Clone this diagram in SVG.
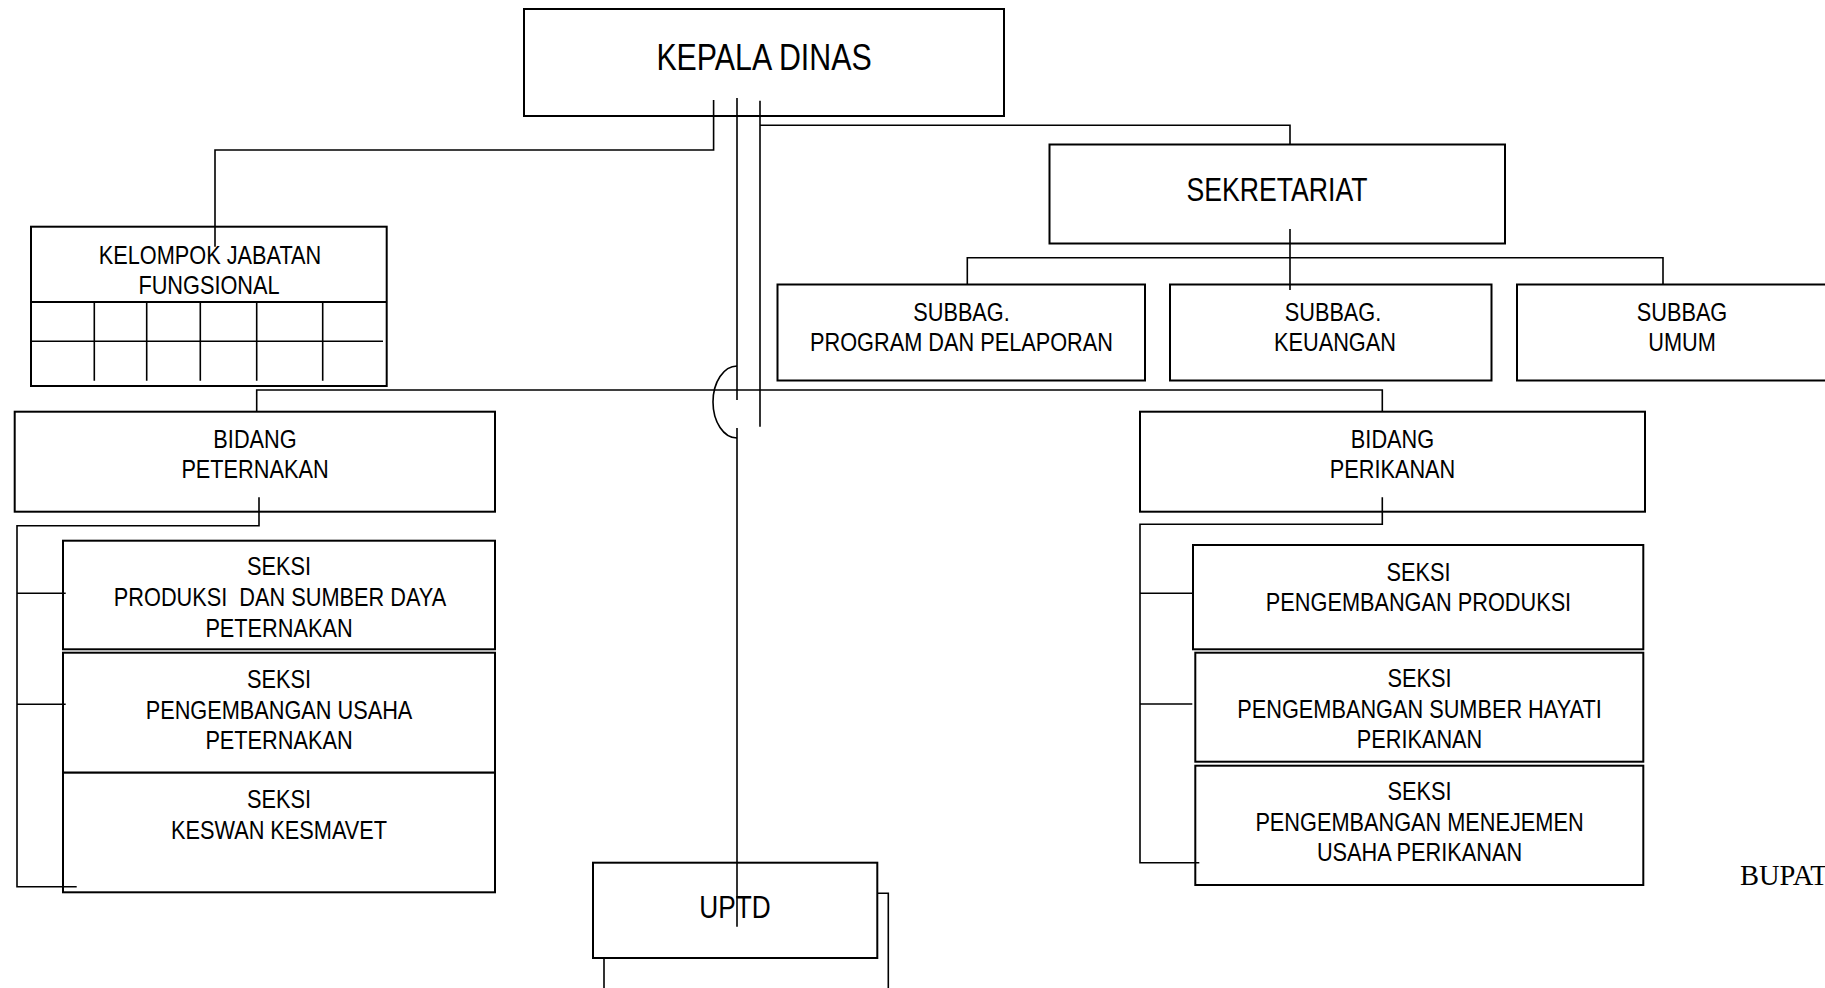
<svg xmlns="http://www.w3.org/2000/svg" width="1825" height="988" viewBox="0 0 1825 988">
<style>
.box{fill:#fff;stroke:#000;stroke-width:2}
.ln{fill:none;stroke:#000;stroke-width:1.6}
.t{font-family:"Liberation Sans","Arial",sans-serif;font-size:26.5px;text-anchor:middle;fill:#000;white-space:pre}
.big{font-size:37px}
.mid{font-size:32.5px}
.up{font-size:32px}
.serif{font-family:"Liberation Serif","Times New Roman",serif;font-size:28.5px;fill:#000}
</style>
<rect width="1825" height="988" fill="#fff"/>
<g id="kepala-dinas">
<rect class="box" x="524" y="9" width="480" height="107"/>
<text class="t big" transform="matrix(0.82 0 0 1 764 69.5)">KEPALA DINAS</text>
</g>
<g id="sekretariat">
<rect class="box" x="1049.5" y="144.5" width="455.5" height="99"/>
<text class="t mid" transform="matrix(0.82 0 0 1 1277 201)">SEKRETARIAT</text>
</g>
<g id="subbag-program">
<rect class="box" x="777.5" y="284.5" width="367.5" height="96"/>
<text class="t" transform="matrix(0.82 0 0 1 961.5 321)">SUBBAG.</text>
<text class="t" transform="matrix(0.82 0 0 1 961.5 351)">PROGRAM DAN PELAPORAN</text>
</g>
<g id="subbag-keuangan">
<rect class="box" x="1170" y="284.5" width="321.5" height="96"/>
<text class="t" transform="matrix(0.82 0 0 1 1333 321)">SUBBAG.</text>
<text class="t" transform="matrix(0.82 0 0 1 1335 351)">KEUANGAN</text>
</g>
<g id="subbag-umum">
<rect class="box" x="1517" y="284.5" width="320" height="96"/>
<text class="t" transform="matrix(0.82 0 0 1 1682 321)">SUBBAG</text>
<text class="t" transform="matrix(0.82 0 0 1 1682 351)">UMUM</text>
</g>
<g id="kelompok-jabatan-fungsional">
<rect class="box" x="31" y="226.7" width="355.7" height="159.3"/>
<line class="ln" x1="31" y1="302" x2="386.7" y2="302" style="stroke-width:2"/>
<line class="ln" x1="31" y1="341.3" x2="383" y2="341.3"/>
<path class="ln" d="M94.3,302V380.7M146.7,302V380.7M200.3,302V380.7M256.7,302V380.7M322.7,302V380.7"/>
<text class="t" transform="matrix(0.82 0 0 1 210 264)">KELOMPOK JABATAN</text>
<text class="t" transform="matrix(0.82 0 0 1 209 294)">FUNGSIONAL</text>
</g>
<g id="bidang-peternakan">
<rect class="box" x="14.7" y="411.7" width="480.3" height="100"/>
<text class="t" transform="matrix(0.82 0 0 1 255 448.3)">BIDANG</text>
<text class="t" transform="matrix(0.82 0 0 1 255 478.3)">PETERNAKAN</text>
</g>
<g id="seksi-produksi-sumber-daya">
<rect class="box" x="63" y="540.7" width="432" height="108.6"/>
<text class="t" transform="matrix(0.82 0 0 1 279 575)">SEKSI</text>
<text class="t" transform="matrix(0.82 0 0 1 280 606)">PRODUKSI  DAN SUMBER DAYA</text>
<text class="t" transform="matrix(0.82 0 0 1 279 636.7)">PETERNAKAN</text>
</g>
<g id="seksi-pengembangan-usaha">
<rect class="box" x="63" y="652.7" width="432" height="120"/>
<text class="t" transform="matrix(0.82 0 0 1 279 687.5)">SEKSI</text>
<text class="t" transform="matrix(0.82 0 0 1 279 718.5)">PENGEMBANGAN USAHA</text>
<text class="t" transform="matrix(0.82 0 0 1 279 749)">PETERNAKAN</text>
</g>
<g id="seksi-keswan">
<rect class="box" x="63" y="772.7" width="432" height="119.6"/>
<text class="t" transform="matrix(0.82 0 0 1 279 807.7)">SEKSI</text>
<text class="t" transform="matrix(0.82 0 0 1 279 839)">KESWAN KESMAVET</text>
</g>
<g id="bidang-perikanan">
<rect class="box" x="1140" y="411.7" width="505" height="100"/>
<text class="t" transform="matrix(0.82 0 0 1 1392.5 448.3)">BIDANG</text>
<text class="t" transform="matrix(0.82 0 0 1 1392.5 478.3)">PERIKANAN</text>
</g>
<g id="seksi-pengembangan-produksi">
<rect class="box" x="1193" y="545" width="450.3" height="104.3"/>
<text class="t" transform="matrix(0.82 0 0 1 1418.5 580.7)">SEKSI</text>
<text class="t" transform="matrix(0.82 0 0 1 1418.5 610.7)">PENGEMBANGAN PRODUKSI</text>
</g>
<g id="seksi-sumber-hayati">
<rect class="box" x="1195.3" y="652.7" width="448" height="109"/>
<text class="t" transform="matrix(0.82 0 0 1 1419.5 687.3)">SEKSI</text>
<text class="t" transform="matrix(0.82 0 0 1 1419.5 718.3)">PENGEMBANGAN SUMBER HAYATI</text>
<text class="t" transform="matrix(0.82 0 0 1 1419.5 748.3)">PERIKANAN</text>
</g>
<g id="seksi-menejemen-usaha">
<rect class="box" x="1195.3" y="765.7" width="448" height="119.3"/>
<text class="t" transform="matrix(0.82 0 0 1 1419.5 800)">SEKSI</text>
<text class="t" transform="matrix(0.82 0 0 1 1419.5 830.7)">PENGEMBANGAN MENEJEMEN</text>
<text class="t" transform="matrix(0.82 0 0 1 1419.5 861)">USAHA PERIKANAN</text>
</g>
<g id="uptd">
<rect class="box" x="593" y="862.7" width="284.3" height="95.3"/>
<text class="t up" transform="matrix(0.82 0 0 1 735 918.3)">UPTD</text>
</g>
<g id="bupati">
<text class="serif" x="1740" y="885">BUPAT</text>
</g>
<g id="connectors">
<path class="ln" d="M713.6,100V150H215V246.7"/>
<path class="ln" d="M737,98V400M737,428V926.7"/>
<path class="ln" d="M737,366A24,36 0 0 0 737,438"/>
<path class="ln" d="M760,100.7V426.7"/>
<path class="ln" d="M760,125.3H1290V144.5"/>
<path class="ln" d="M1290,229V290"/>
<path class="ln" d="M967.3,284.5V257.7H1663V284.5"/>
<path class="ln" d="M256.7,411.7V390H1382.3V411.7"/>
<path class="ln" d="M259,497.3V525.7H17V886.7H76.7"/>
<path class="ln" d="M17,593.3H65.7M17,704.3H65.7"/>
<path class="ln" d="M1382.3,497.3V524.3H1140V862.7H1199.3"/>
<path class="ln" d="M1140,593.3H1192.3M1140,704H1192.3"/>
<path class="ln" d="M604,958V990M877.3,893.3H888.3V990"/>
</g>
</svg>
